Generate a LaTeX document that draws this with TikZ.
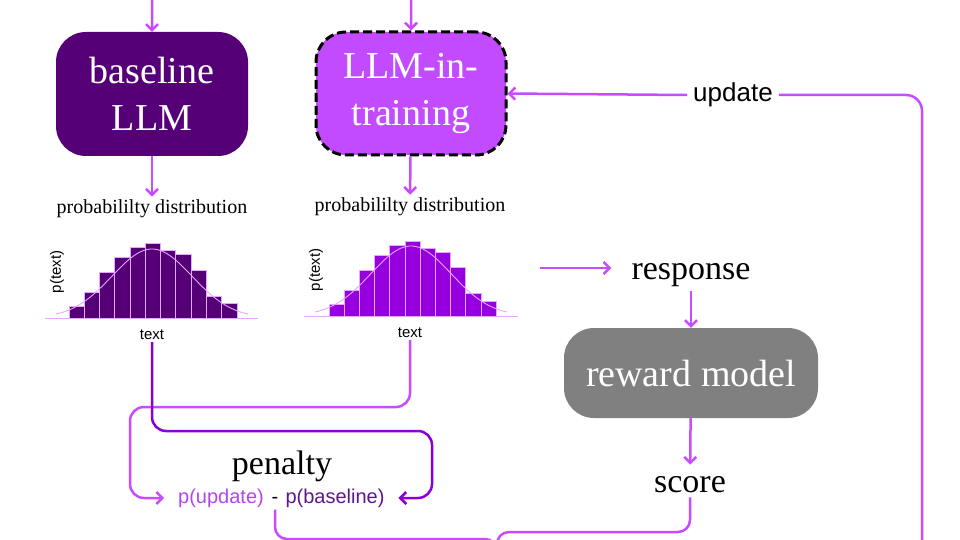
\documentclass[tikz,border=0pt]{standalone}
\usepackage{fontspec}
\setmainfont{Liberation Serif}
\setsansfont{Liberation Sans}
\usetikzlibrary{arrows.meta}

\definecolor{basepurple}{HTML}{560078}
\definecolor{trainviolet}{HTML}{C34BFF}
\definecolor{barviolet}{HTML}{9600DE}
\definecolor{lineviolet}{HTML}{C94BFF}
\definecolor{linedeep}{HTML}{8A00D4}
\definecolor{paleviolet}{HTML}{E3A8FF}
\definecolor{rewardgray}{HTML}{808080}
\definecolor{updtext}{HTML}{B445EE}
\definecolor{basetext}{HTML}{5C1690}

\begin{document}
\begin{tikzpicture}[x=1pt, y=-1pt,
      modelbox/.style ={rounded corners=30pt, text=white, align=center, inner sep=0pt,
                        font=\fontsize{38}{47}\selectfont},
      termtext/.style ={font=\fontsize{34}{40}\selectfont, inner sep=4pt},
      disttext/.style ={font=\fontsize{20}{23}\selectfont, inner sep=3pt},
      axistext/.style ={font=\sffamily\fontsize{15}{18}\selectfont, inner sep=2pt},
      difftext/.style ={font=\sffamily\fontsize{20}{24}\selectfont, inner sep=2pt,
                        text height=15pt, text depth=4pt},
      flow/.style ={draw=lineviolet, line width=2.5pt, -{Straight Barb[length=6pt,width=12pt]}},
      softline/.style ={draw=lineviolet, line width=2.5pt},
      deepline/.style ={draw=linedeep, line width=2.5pt},
      bar/.style ={draw=paleviolet, line width=0.8pt},
      bell/.style ={draw=paleviolet, line width=0.9pt}]

   \clip (0,0) rectangle (960,540);

   % models
   \node[modelbox, fill=basepurple, minimum width=192pt, minimum height=124pt] (base) at (152,94) {baseline\\LLM};
   \node[modelbox, fill=trainviolet, minimum width=190pt, minimum height=123pt,
         draw=black, line width=3pt, dash pattern=on 9pt off 4pt] (train) at (411,93.5) {LLM-in-\\training};

   \coordinate (basefeed) at (172,-8);
   \coordinate (trainfeed) at (392,-8);
   \draw[flow, rounded corners=8pt] (basefeed) -| (base.north);
   \draw[flow, rounded corners=8pt] (trainfeed) -| (train.north);

   % distributions
   \node[disttext] (basedist) at (152,209) {probabililty distribution};
   \node[disttext] (traindist) at (410,207) {probabililty distribution};
   \draw[flow] (base) to (basedist);
   \draw[flow] (train) to (traindist);

   \foreach \h [count=\i from 0] in {12,26,46,61,71,75,68,64,48,22,15}
      \draw[bar, fill=basepurple] (69+\i*15.27,318) rectangle ++(15.27,-\h);
   \draw[bell] plot[domain=-96:96, samples=60] ({152+\x},{318-69*exp(-(\x/40)^2/2)});
   \draw[bar] (45,318) -- (258,318);

   \foreach \h [count=\i from 0] in {12,26,46,61,71,75,68,64,49,23,15}
      \draw[bar, fill=barviolet] (329+\i*15.2,316) rectangle ++(15.2,-\h);
   \draw[bell] plot[domain=-96:96, samples=60] ({411+\x},{316-70*exp(-(\x/40)^2/2)});
   \draw[bar] (304,316) -- (518,316);

   \node[axistext, rotate=90] (baseptext) at (57,272) {p(text)};
   \node[axistext, rotate=90] (trainptext) at (316,270) {p(text)};
   \node[axistext] (basetext) at (152,335) {text};
   \node[axistext] (traintext) at (410,333) {text};

   % reward
   \coordinate (respfrom) at (540,268);
   \node[termtext] (resp) at (691,275) {response};
   \node[modelbox, fill=rewardgray, minimum width=254pt, minimum height=90pt] (reward) at (691,373) {reward model};
   \node[termtext] (score) at (690,485) {score};

   \draw[flow, shorten >=16pt] (respfrom) to (respfrom -| resp.west);
   \draw[flow] (resp) to (reward);
   \draw[flow, shorten >=8pt] (reward) to (score);

   % penalty
   \node[termtext] (penalty) at (282,466) {penalty};
   \node[difftext, text=updtext, outer sep=12pt] (pupd) at (221,498) {p(update)};
   \node[difftext] (minus) at (275,498) {-};
   \node[difftext, text=basetext, outer sep=12pt] (pbase) at (335,498) {p(baseline)};

   \draw[flow, rounded corners=14pt] (traintext.south) |- (130,407) |- (pupd.west);
   \draw[deepline, -{Straight Barb[length=6pt,width=12pt]}, rounded corners=14pt]
        (basetext.south) |- (432,431) |- (pbase.east);

   \coordinate (merge) at (497,590);
   \draw[softline, rounded corners=12pt] (score.south) |- (497,532) -- (merge);
   \draw[softline, rounded corners=12pt] (minus.south) |- (497,539) -- (merge);

   % update
   \node[font=\sffamily\fontsize{26}{30}\selectfont, inner sep=6pt] (update) at (733,95) {update};
   \coordinate (updfrom) at (922,560);
   \draw[softline, rounded corners=16pt] (updfrom) |- (update.east);
   \draw[flow] (update.west) to (train.east);

 \end{tikzpicture}
\end{document}
